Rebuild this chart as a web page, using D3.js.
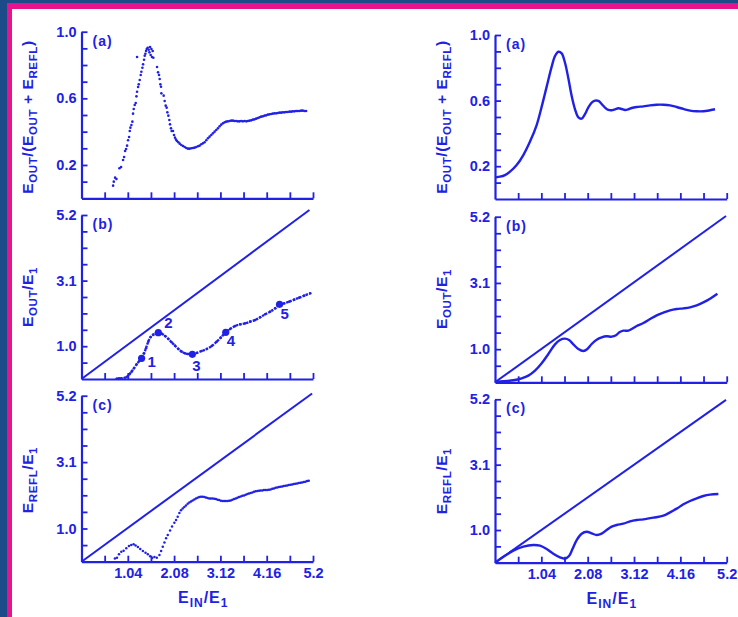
<!DOCTYPE html>
<html><head><meta charset="utf-8">
<script src="https://cdn.jsdelivr.net/npm/d3@7"></script>
<style>body{margin:0;background:#1b4b88;}svg{display:block;}</style>
</head><body>
<svg id="chart" width="738" height="617"></svg>
<script>
// ---------------- DATA ----------------
const xTickValues = [0.52, 1.04, 1.56, 2.08, 2.6, 3.12, 3.64, 4.16, 4.68, 5.2];
const xLabelValues = [1.04, 2.08, 3.12, 4.16, 5.2];
const xLabelTexts = ["1.04", "2.08", "3.12", "4.16", "5.2"];
const ratioTickValues = [0.1, 0.2, 0.3, 0.4, 0.5, 0.6, 0.7, 0.8, 0.9, 1.0];
const ratioLabelValues = [0.2, 0.6, 1.0];
const ratioLabelTexts = ["0.2", "0.6", "1.0"];
const energyTickValues = [0.52, 1.04, 1.56, 2.08, 2.6, 3.12, 3.64, 4.16, 4.68, 5.2];
const energyLabelValues = [1.04, 3.12, 5.2];
const energyLabelTexts = ["1.0", "3.1", "5.2"];
const panelLetters = ["(a)", "(b)", "(c)"];

// experiment (left column), panel (a): E_OUT/(E_OUT+E_REFL)
const expRatio = [
[0.71,0.076],[0.725,0.10],[0.755,0.124],[0.785,0.116],[0.852,0.18],[0.889,0.188],[0.934,0.23],[0.957,0.248],
[0.979,0.284],[1.001,0.296],[1.024,0.316],[1.046,0.348],[1.069,0.368],[1.084,0.404],[1.099,0.424],[1.121,0.44],
[1.143,0.46],[1.158,0.508],[1.173,0.536],[1.196,0.56],[1.218,0.572],[1.233,0.612],[1.248,0.64],[1.271,0.668],
[1.286,0.684],[1.308,0.71],[1.33,0.74],[1.345,0.76],[1.368,0.784],[1.383,0.804],[1.248,0.848],[1.405,0.832],
[1.42,0.856],[1.435,0.868],[1.45,0.884],[1.465,0.896],[1.487,0.904],[1.51,0.892],[1.525,0.876],[1.54,0.908],
[1.554,0.86],[1.57,0.896],[1.584,0.848],[1.599,0.884],[1.614,0.844],
[1.697,0.788],[1.719,0.756],[1.741,0.74],[1.756,0.716],[1.771,0.684],[1.786,0.67],[1.794,0.63],[1.846,0.616],
[1.868,0.584],[1.891,0.556],[1.913,0.544],[1.928,0.516],[1.951,0.496],[1.973,0.47],[1.988,0.444],[2.01,0.42],
[2.025,0.404],[2.055,0.404],[2.078,0.38],[2.10,0.364],[2.123,0.352],[2.145,0.344],[2.175,0.336],[2.205,0.328],
[2.242,0.32],[2.279,0.314],[2.317,0.308],[2.354,0.302],[2.392,0.298],[2.429,0.298],[2.466,0.30],[2.504,0.302],
[2.541,0.304],[2.578,0.308],[2.616,0.312],[2.653,0.316],[2.691,0.324],[2.728,0.33],[2.765,0.336],[2.803,0.348],
[2.84,0.36],[2.877,0.37],[2.915,0.38],[2.952,0.39],[2.99,0.40],[3.027,0.41],[3.064,0.42],[3.102,0.432],
[3.139,0.442],[3.176,0.45],[3.214,0.456],[3.251,0.46],[3.288,0.462],[3.326,0.464],[3.363,0.466],[3.401,0.466],
[3.438,0.464],[3.475,0.464],[3.513,0.462],[3.55,0.462],[3.587,0.464],[3.625,0.462],[3.662,0.464],[3.70,0.462],
[3.737,0.464],[3.774,0.466],[3.812,0.468],[3.849,0.472],[3.886,0.474],[3.924,0.478],[3.961,0.482],[3.999,0.486],
[4.036,0.49],[4.073,0.492],[4.111,0.496],[4.148,0.498],[4.185,0.502],[4.223,0.504],[4.26,0.506],[4.297,0.508],
[4.335,0.51],[4.372,0.51],[4.41,0.512],[4.447,0.514],[4.484,0.514],[4.522,0.516],[4.559,0.516],[4.596,0.518],
[4.634,0.518],[4.671,0.52],[4.709,0.52],[4.746,0.522],[4.783,0.522],[4.821,0.524],[4.858,0.524],[4.895,0.524],
[4.933,0.526],[4.97,0.526],[5.007,0.524],[5.045,0.524]
];

// experiment panel (b): E_OUT/E_1
const expOut = [
[0.788,0.01],[0.85,0.02],[0.90,0.02],[1.013,0.063],[1.073,0.148],[1.125,0.233],[1.178,0.338],[1.238,0.465],
[1.298,0.571],[1.35,0.655],[1.403,0.814],[1.448,0.973],[1.50,1.184],[1.553,1.332],[1.613,1.406],[1.673,1.448],
[1.725,1.469],[1.80,1.438],[1.876,1.364],[1.95,1.269],[2.025,1.163],[2.10,1.057],[2.176,0.951],[2.25,0.867],
[2.326,0.814],[2.40,0.793],[2.49,0.782],[2.588,0.825],[2.70,0.888],[2.813,0.951],[2.926,1.047],[3.038,1.184],
[3.128,1.311],[3.24,1.48],[3.338,1.586],[3.45,1.681],[3.563,1.734],[3.676,1.765],[3.788,1.818],[3.90,1.871],
[4.013,1.956],[4.126,2.051],[4.238,2.135],[4.351,2.241],[4.449,2.368],[4.553,2.40],[4.666,2.452],[4.779,2.516],
[4.891,2.579],[5.004,2.643],[5.139,2.717]
];
const markerPoints = [[1.35,0.655],[1.725,1.469],[2.49,0.782],[3.24,1.48],[4.449,2.368]];
const markerLabels = ["1", "2", "3", "4", "5"];

// experiment panel (c): E_REFL/E_1
const expRefl = [
[0.75,0.10],[0.797,0.125],[0.842,0.23],[0.894,0.313],[0.946,0.344],[1.006,0.418],[1.066,0.49],[1.118,0.522],
[1.17,0.543],[1.215,0.511],[1.267,0.459],[1.319,0.397],[1.379,0.334],[1.438,0.282],[1.49,0.23],[1.542,0.167],
[1.587,0.115],[1.639,0.146],[1.691,0.125],[1.751,0.209],[1.788,0.334],[1.826,0.47],[1.863,0.605],[1.90,0.731],
[1.937,0.835],[1.99,0.981],[2.034,1.106],[2.086,1.221],[2.124,1.305],[2.161,1.409],
[2.198,1.524],[2.235,1.608],[2.273,1.67],[2.31,1.712],[2.347,1.764],[2.385,1.816],[2.422,1.858],[2.459,1.889],
[2.496,1.921],[2.534,1.952],[2.571,1.983],[2.608,2.004],[2.645,2.025],[2.683,2.035],[2.72,2.035],[2.757,2.025],
[2.794,2.015],[2.832,1.994],[2.869,1.983],[2.906,1.983],[2.943,1.983],[2.981,1.973],[3.018,1.962],[3.055,1.942],
[3.092,1.931],[3.13,1.91],[3.167,1.90],[3.204,1.90],[3.241,1.90],[3.279,1.90],[3.316,1.91],[3.353,1.921],
[3.39,1.942],[3.428,1.962],[3.465,1.983],[3.502,2.004],[3.539,2.025],[3.577,2.046],[3.614,2.067],[3.651,2.077],
[3.689,2.098],[3.726,2.119],[3.763,2.14],[3.80,2.15],[3.838,2.171],[3.875,2.192],[3.912,2.203],[3.949,2.213],
[3.987,2.223],[4.024,2.234],[4.061,2.234],[4.098,2.244],[4.136,2.244],[4.173,2.244],[4.21,2.255],[4.247,2.265],
[4.285,2.286],[4.322,2.296],[4.359,2.317],[4.396,2.328],[4.434,2.338],[4.471,2.349],[4.508,2.359],[4.545,2.37],
[4.583,2.38],[4.62,2.39],[4.657,2.401],[4.695,2.411],[4.732,2.422],[4.769,2.432],[4.806,2.443],[4.844,2.453],
[4.881,2.463],[4.918,2.474],[4.955,2.484],[4.993,2.495],[5.03,2.505],[5.067,2.526],[5.104,2.537]
];

// theory (right column)
const theoryRatio = [
[0.022,0.132],[0.112,0.136],[0.224,0.146],[0.337,0.167],[0.486,0.207],[0.636,0.268],[0.786,0.35],[0.935,0.451],
[1.048,0.563],[1.16,0.685],[1.272,0.807],[1.347,0.872],[1.422,0.898],[1.496,0.888],[1.571,0.831],[1.646,0.736],
[1.721,0.628],[1.796,0.547],[1.871,0.498],[1.945,0.49],[2.02,0.518],[2.095,0.559],[2.17,0.587],[2.245,0.60],
[2.32,0.598],[2.394,0.579],[2.469,0.557],[2.544,0.543],[2.619,0.541],[2.694,0.547],[2.768,0.553],[2.843,0.549],
[2.918,0.543],[2.993,0.547],[3.068,0.555],[3.18,0.561],[3.33,0.565],[3.479,0.571],[3.629,0.575],[3.779,0.575],
[3.928,0.571],[4.078,0.561],[4.228,0.549],[4.377,0.539],[4.527,0.535],[4.676,0.535],[4.826,0.541],[4.938,0.547]
];
const theoryOut = [
[0.022,0.021],[0.187,0.031],[0.412,0.063],[0.599,0.126],[0.748,0.209],[0.898,0.366],[1.048,0.596],[1.197,0.889],
[1.347,1.192],[1.459,1.328],[1.571,1.37],[1.661,1.328],[1.758,1.192],[1.871,1.046],[1.983,0.983],[2.073,1.046],
[2.17,1.203],[2.282,1.339],[2.394,1.412],[2.507,1.444],[2.619,1.433],[2.716,1.475],[2.791,1.569],[2.881,1.621],
[2.993,1.621],[3.068,1.674],[3.18,1.768],[3.33,1.862],[3.479,1.987],[3.629,2.103],[3.779,2.186],[3.928,2.259],
[4.078,2.301],[4.228,2.322],[4.377,2.354],[4.527,2.416],[4.676,2.51],[4.826,2.626],[4.991,2.782]
];
const theoryRefl = [
[0.022,0.021],[0.187,0.191],[0.412,0.382],[0.636,0.51],[0.86,0.563],[1.01,0.541],[1.16,0.435],[1.309,0.287],
[1.459,0.17],[1.571,0.127],[1.661,0.212],[1.736,0.425],[1.833,0.722],[1.945,0.924],[2.058,0.987],[2.17,0.934],
[2.282,0.881],[2.394,0.924],[2.507,1.04],[2.619,1.146],[2.731,1.2],[2.881,1.242],[3.03,1.316],[3.18,1.359],
[3.33,1.38],[3.554,1.433],[3.779,1.497],[3.928,1.603],[4.078,1.72],[4.228,1.858],[4.377,1.964],[4.527,2.049],
[4.676,2.123],[4.826,2.166],[5.013,2.187]
];

// E_OUT = E_IN reference lines (end points as drawn)
const diagExpOut = [[0,0],[5.12,5.36]];
const diagExpRefl = [[0,0],[5.18,5.27]];
const diagThOut = [[0,0],[5.185,5.22]];
const diagThRefl = [[0,0],[5.185,5.18]];

// ---------------- LAYOUT / STYLE ----------------
const BLUE = "#2121e6";
const FONT = "'Liberation Sans', Arial, Helvetica, sans-serif";
const svg = d3.select("#chart");

svg.append("rect").attr("x",0).attr("y",0).attr("width",738).attr("height",617).attr("fill","#1b4b88");
svg.append("rect").attr("x",7).attr("y",3).attr("width",731).attr("height",614).attr("fill","#e8128c");
svg.append("rect").attr("x",12).attr("y",9).attr("width",726).attr("height",608).attr("fill","#ffffff");

const cols = {
  L: {x0: 81.5, x1: 313, titleX: 33},
  R: {x0: 495, x1: 726.7, titleX: 447}
};

const panels = [
  {col:"L", top:31.7, bottom:198.3, ymax:1.0, kind:"ratio", letter:0, title:"ratio", titleY:117},
  {col:"L", top:215, bottom:379, ymax:5.2, kind:"energy", letter:1, title:"out", titleY:297},
  {col:"L", top:395.7, bottom:561.7, ymax:5.2, kind:"energy", letter:2, title:"refl", titleY:480, xlabels:true},
  {col:"R", top:35, bottom:199, ymax:1.0, kind:"ratio", letter:0, title:"ratio", titleY:117},
  {col:"R", top:216.7, bottom:382.3, ymax:5.2, kind:"energy", letter:1, title:"out", titleY:299},
  {col:"R", top:399.3, bottom:562.7, ymax:5.2, kind:"energy", letter:2, title:"refl", titleY:481, xlabels:true}
];

function labelFormatter(values, texts) {
  return v => {
    const i = values.findIndex(w => Math.abs(w - v) < 1e-6);
    return i >= 0 ? texts[i] : "";
  };
}

const scales = [];
panels.forEach((p, idx) => {
  const c = cols[p.col];
  const x = d3.scaleLinear().domain([0, 5.2]).range([c.x0, c.x1]);
  const y = d3.scaleLinear().domain([0, p.ymax]).range([p.bottom, p.top]);
  scales.push({x, y});
  const g = svg.append("g");

  const yAxis = d3.axisLeft(y)
    .tickValues(p.kind === "ratio" ? ratioTickValues : energyTickValues)
    .tickFormat(p.kind === "ratio" ? labelFormatter(ratioLabelValues, ratioLabelTexts)
                                   : labelFormatter(energyLabelValues, energyLabelTexts))
    .tickSizeInner(-6).tickSizeOuter(0).tickPadding(5);
  const ya = g.append("g").attr("transform", `translate(${c.x0},0)`).call(yAxis);

  const xAxis = d3.axisBottom(x)
    .tickValues(xTickValues)
    .tickFormat(p.xlabels ? labelFormatter(xLabelValues, xLabelTexts) : () => "")
    .tickSizeInner(-6).tickSizeOuter(0).tickPadding(6);
  const xa = g.append("g").attr("transform", `translate(0,${p.bottom})`).call(xAxis);

  [ya, xa].forEach(a => {
    a.select(".domain").attr("stroke", BLUE).attr("stroke-width", 2.2);
    a.selectAll(".tick line").attr("stroke", BLUE).attr("stroke-width", 1.8);
    a.selectAll(".tick text").attr("fill", BLUE).style("font-family", FONT)
      .style("font-size", "14.5px").style("font-weight", "bold");
  });

  // panel letter
  g.append("text").attr("x", c.x0 + 11).attr("y", p.top + 14)
    .attr("fill", BLUE).style("font-family", FONT).style("font-size", "14px").style("font-weight", "bold")
    .style("letter-spacing", "1px")
    .text(panelLetters[p.letter]);

  // y title
  const t = g.append("text")
    .attr("transform", `translate(${c.titleX},${p.titleY}) rotate(-90)`)
    .attr("text-anchor", "middle").attr("fill", BLUE)
    .style("font-family", FONT).style("font-weight", "bold").style("font-size", "15.5px")
    .style("letter-spacing", "0.6px");
  const parts = p.title === "ratio"
    ? [["E",0],["OUT",1],["/(E",0],["OUT",1],[" + E",0],["REFL",1],[")",0]]
    : p.title === "out" ? [["E",0],["OUT",1],["/E",0],["1",1]]
    : [["E",0],["REFL",1],["/E",0],["1",1]];
  let sub = false;
  parts.forEach(([s, isSub]) => {
    const ts = t.append("tspan").text(s);
    if (isSub && !sub) { ts.attr("dy", 4).style("font-size", "11.5px"); sub = true; }
    else if (!isSub && sub) { ts.attr("dy", -4); sub = false; }
    else if (isSub) ts.style("font-size", "11.5px");
  });

  // x title
  if (p.xlabels) {
    const cx = (c.x0 + c.x1) / 2 + (p.col === "L" ? 6 : 1);
    const xt = g.append("text").attr("x", cx).attr("y", p.bottom + 41)
      .attr("text-anchor", "middle").attr("fill", BLUE)
      .style("font-family", FONT).style("font-weight", "bold").style("font-size", "16px")
      .style("letter-spacing", "1px");
    [["E",0],["IN",1],["/E",0],["1",1]].forEach(([s, isSub], i) => {
      const ts = xt.append("tspan").text(s);
      if (isSub) ts.attr("dy", 4).style("font-size", "12px");
      else if (i > 0) ts.attr("dy", -4);
    });
  }
});

const line = (sc) => d3.line().x(d => sc.x(d[0])).y(d => sc.y(d[1]));
const smooth = (sc) => d3.line().curve(d3.curveCatmullRom.alpha(0.5)).x(d => sc.x(d[0])).y(d => sc.y(d[1]));

function dots(sc, data, r) {
  svg.append("g").selectAll("circle").data(data).join("circle")
    .attr("cx", d => sc.x(d[0])).attr("cy", d => sc.y(d[1])).attr("r", r).attr("fill", BLUE);
}

// Left column: experiment
dots(scales[0], expRatio, 1.3);

svg.append("path").datum(diagExpOut).attr("d", line(scales[1])).attr("fill","none").attr("stroke",BLUE).attr("stroke-width",2);
svg.append("path").datum(expOut).attr("d", smooth(scales[1])).attr("fill","none").attr("stroke",BLUE)
  .attr("stroke-width",2.4).attr("stroke-dasharray","2.4 1.1");
dots(scales[1], expOut, 1.3);
svg.append("g").selectAll("circle").data(markerPoints).join("circle")
  .attr("cx", d => scales[1].x(d[0])).attr("cy", d => scales[1].y(d[1])).attr("r", 3.6).attr("fill", BLUE);
const labelOffsets = [[6,9],[6,-5],[0,17],[1,14],[1,15]];
svg.append("g").selectAll("text").data(markerPoints).join("text")
  .attr("x", (d,i) => scales[1].x(d[0]) + labelOffsets[i][0])
  .attr("y", (d,i) => scales[1].y(d[1]) + labelOffsets[i][1])
  .attr("fill", BLUE).style("font-family", FONT).style("font-size","15px").style("font-weight","bold")
  .text((d,i) => markerLabels[i]);

svg.append("path").datum(diagExpRefl).attr("d", line(scales[2])).attr("fill","none").attr("stroke",BLUE).attr("stroke-width",2);
dots(scales[2], expRefl, 1.25);

// Right column: theory
svg.append("path").datum(theoryRatio).attr("d", smooth(scales[3])).attr("fill","none").attr("stroke",BLUE).attr("stroke-width",2.4);
svg.append("path").datum(diagThOut).attr("d", line(scales[4])).attr("fill","none").attr("stroke",BLUE).attr("stroke-width",2);
svg.append("path").datum(theoryOut).attr("d", smooth(scales[4])).attr("fill","none").attr("stroke",BLUE).attr("stroke-width",2.4);
svg.append("path").datum(diagThRefl).attr("d", line(scales[5])).attr("fill","none").attr("stroke",BLUE).attr("stroke-width",2);
svg.append("path").datum(theoryRefl).attr("d", smooth(scales[5])).attr("fill","none").attr("stroke",BLUE).attr("stroke-width",2.4);
</script>
</body></html>
